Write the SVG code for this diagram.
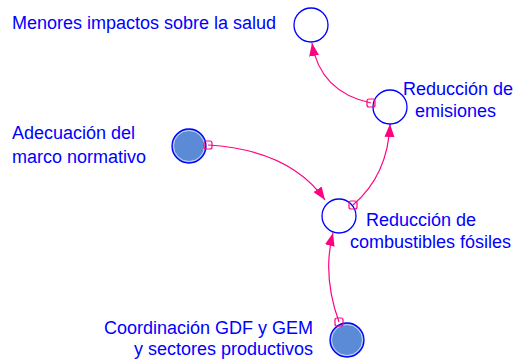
<svg xmlns="http://www.w3.org/2000/svg" width="520" height="360" viewBox="0 0 520 360">
<style>
.lbl{font-family:"Liberation Sans",Arial,sans-serif;font-size:18px;fill:#0000ff}
.var{fill:#ffffff;stroke:#0000ff;stroke-width:1.3}
.ext{fill:#5b8bd6;stroke:#0000ff;stroke-width:1.3}
.ring{fill:none;stroke:#c8d8f4;stroke-width:1}
.lnk{fill:none;stroke:#ff0080;stroke-width:1.2}
.tail{fill:none;stroke:#ff0080;stroke-width:1.2}
</style>
<defs>
<marker id="ah" viewBox="0 0 13 10" refX="13" refY="5" markerWidth="13" markerHeight="10" markerUnits="userSpaceOnUse" orient="auto">
<path d="M0,0 L13,5 L0,10 Z" fill="#ff0080"/>
</marker>
</defs>
<rect width="520" height="360" fill="#ffffff"/>
<g id="connectors">
<path class="lnk" d="M371,103 Q320,92 312,43" marker-end="url(#ah)"/>
<path class="lnk" d="M208,145 Q290,150 325,200" marker-end="url(#ah)"/>
<path class="lnk" d="M353,205 Q388,175 390,124" marker-end="url(#ah)"/>
<path class="lnk" d="M339,322 Q322,275 333,233" marker-end="url(#ah)"/>
</g>
<g id="menores">
<circle class="var" cx="311" cy="25" r="17"/>
<text class="lbl" x="12" y="29">Menores impactos sobre la salud</text>
</g>
<g id="emisiones">
<circle class="var" cx="390" cy="107" r="17"/>
<text class="lbl"><tspan x="403" y="95">Reducción de</tspan><tspan x="415" y="117">emisiones</tspan></text>
</g>
<g id="adecuacion">
<circle class="ext" cx="189" cy="146" r="17"/>
<circle class="ring" cx="189" cy="146" r="15.5"/>
<text class="lbl"><tspan x="12" y="139">Adecuación del</tspan><tspan x="12" y="163">marco normativo</tspan></text>
</g>
<g id="combustibles">
<circle class="var" cx="339" cy="216" r="17"/>
<text class="lbl"><tspan x="366" y="226">Reducción de</tspan><tspan x="350" y="248">combustibles fósiles</tspan></text>
</g>
<g id="coordinacion">
<circle class="ext" cx="347" cy="340" r="17"/>
<circle class="ring" cx="347" cy="340" r="15.5"/>
<text class="lbl" text-anchor="end"><tspan x="313" y="334">Coordinación GDF y GEM</tspan><tspan x="313" y="355">y sectores productivos</tspan></text>
</g>
<g id="tails">
<rect class="tail" x="367" y="99" width="8" height="8" rx="2"/>
<rect class="tail" x="204" y="141" width="8" height="8" rx="2"/>
<rect class="tail" x="349" y="201" width="8" height="8" rx="2"/>
<rect class="tail" x="335" y="318" width="8" height="8" rx="2"/>
</g>
</svg>
